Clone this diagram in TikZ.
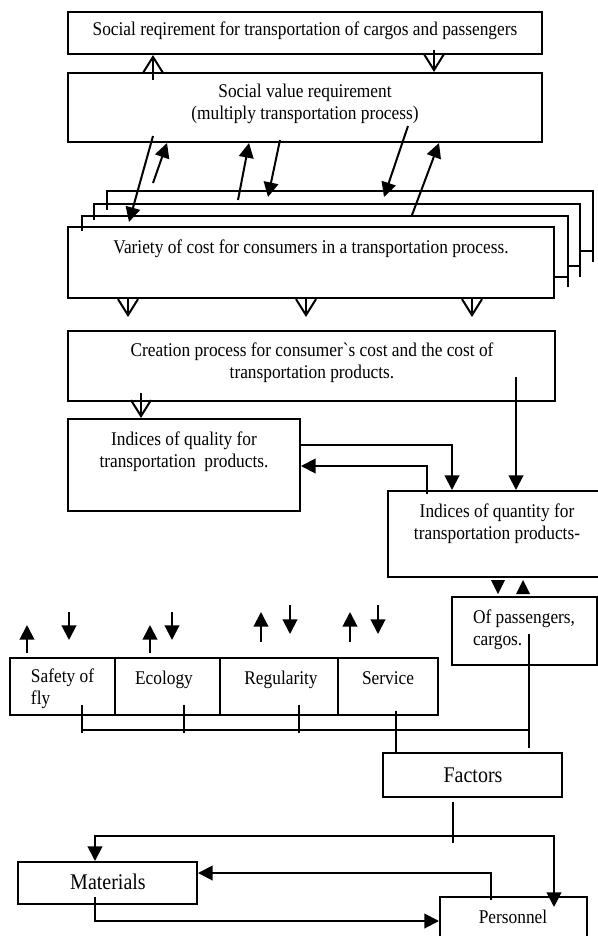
\documentclass[tikz,border=0pt]{standalone}
\usepackage{fontspec}
\usepackage{graphicx}
\setmainfont{Liberation Serif}
\usetikzlibrary{arrows.meta,fit}
\newcommand\tl[1]{\scalebox{1}[1.12]{\begin{tabular}{@{}c@{}}#1\end{tabular}}}
\newcommand\tll[1]{\scalebox{1}[1.12]{\begin{tabular}{@{}l@{}}#1\end{tabular}}}
\tikzset{
  box/.style={draw, inner sep=0pt, fit={#1}},
  txt/.style={inner sep=0pt, font=\fontsize{13}{15}\selectfont},
  bigtxt/.style={inner sep=0pt, font=\fontsize{15}{17}\selectfont},
  oa/.style={-{Straight Barb[length=12pt,width=15pt]}},
  fa/.style={-{Triangle[length=11pt,width=11pt]}},
}
\begin{document}
\begin{tikzpicture}[x=0.75pt,y=-0.75pt,line width=1.5pt]
\clip (0,0) rectangle (598,936);
\fill[white] (0,0) rectangle (598,936);
% top boxes
\node[box={(68,12)(542,54)}] (req) {};
\node[txt] (reqt) at (305,31) {\tl{Social reqirement for transportation of cargos and passengers}};
\node[box={(68,73)(542,142)}] (sv) {};
\node[txt] (svt) at (305,104) {\tl{Social value requirement\\(multiply transportation process)}};
\draw[oa] (153,80) -- (153,0 |- req.south);
\draw[oa] (434,50) -- (434,0 |- sv.north);
% stacked boxes behind
\draw (107,210) -- (107,191) -- (593,191) -- (593,262);
\draw (580,251) -- (593,251);
\draw (94,220) -- (94,204) -- (580,204) -- (580,277);
\draw (568,266) -- (580,266);
\draw (82,231) -- (82,216) -- (568,216) -- (568,287);
\node[box={(68,227)(554,298)}] (var) {};
\draw (var.east |- 0,277) -- (568,277);
\node[txt] (vart) at (311,249) {\tl{Variety of cost for consumers in a transportation process.}};
% diagonal arrows
\draw[fa] (153,136) -- (129,222);
\draw[fa] (153,183) -- (167,0 |- sv.south);
\draw[fa] (238,200) -- (249,143);
\draw[fa] (280,140) -- (268,197);
\draw[fa] (408,126) -- (384,197);
\draw[fa] (412,215) -- (439,143);
% arrows below variety
\draw[oa] (128,0 |- var.south) -- (128,317);
\draw[oa] (306,0 |- var.south) -- (306,317);
\draw[oa] (472,0 |- var.south) -- (472,317);
% creation
\node[box={(68,331)(555,401)}] (cre) {};
\node[txt] (cret) at (312,363) {\tl{Creation process for consumer\textasciigrave s cost and the cost of\\transportation products.}};
\node[box={(68,419)(300,511)}] (qual) {};
\node[txt] (qualt) at (184,452) {\tl{Indices of quality for\\transportation\ \ products.}};
\draw[oa] (141,393) -- (141,0 |- qual.north);
\node[box={(388,491)(604,577)}] (quant) {};
\node[txt] (quantt) at (497,524) {\tl{Indices of quantity for\\transportation products-}};
\draw[fa] (qual.east |- 0,445) -| (452,0 |- quant.north);
\draw[fa] (427,494) |- (qual.east |- 0,466);
\draw[fa] (516,377) -- (516,0 |- quant.north);
\fill (491,580) -- (505,580) -- (498,594) -- cycle;
\fill (516,594) -- (530,594) -- (523,580) -- cycle;
% passengers
\node[box={(452,597)(597,665)}] (pas) {};
\node[txt, anchor=west] (past) at (472,630) {\tll{Of passengers,\\cargos.}};
% row of boxes
\node[box={(9.5,658)(115,715)}] (safety) {};
\node[box={(115,658)(220,715)}] (eco) {};
\node[box={(220,658)(338,715)}] (reg) {};
\node[box={(338,658)(438,715)}] (serv) {};
\node[txt, anchor=west] (safetyt) at (30,689) {\tll{Safety of\\fly}};
\node[txt] (ecot) at (164,680) {\tl{Ecology}};
\node[txt] (regt) at (281,680) {\tl{Regularity}};
\node[txt] (servt) at (388,680) {\tl{Service}};
\draw[fa] (27,653) -- (27,625);
\draw[fa] (69,612) -- (69,640);
\draw[fa] (150,653) -- (150,625);
\draw[fa] (172,612) -- (172,640);
\draw[fa] (261,642) -- (261,612);
\draw[fa] (290,605) -- (290,634);
\draw[fa] (350,642) -- (350,612);
\draw[fa] (378,605) -- (378,634);
\draw (82,705) -- (82,733);
\draw (184,705) -- (184,733);
\draw (299,705) -- (299,733);
\draw (82,730) -- (529,730);
\draw (529,634) -- (529,748);
% factors
\node[box={(383,753)(562,797)}] (fac) {};
\node[bigtxt] (fact) at (473,777) {\tl{Factors}};
\draw (396,711) -- (396,0 |- fac.north);
\draw (453,802) -- (453,843);
\node[box={(18,862)(197,904)}] (mat) {};
\node[bigtxt] (matt) at (108,884) {\tl{Materials}};
\node[box={(440,897)(587,960)}] (pers) {};
\node[txt] (perst) at (513,919) {\tl{Personnel}};
\draw[fa] (453,836) -| (95,0 |- mat.north);
\draw[fa] (453,836) -| (554,907);
\draw[fa] (491,900) |- (mat.east |- 0,873);
\draw[fa] (95,897) |- (pers.west |- 0,921);
\end{tikzpicture}
\end{document}
